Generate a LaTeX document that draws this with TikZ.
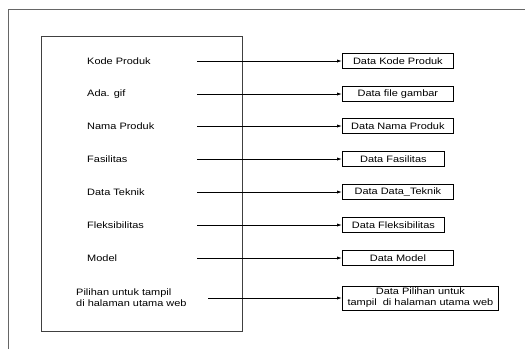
\documentclass[tikz,border=0pt]{standalone}
\usepackage{fontspec}
\setmainfont{Liberation Sans}[FakeStretch=1.18]
\usetikzlibrary{arrows.meta}

\begin{document}
\begin{tikzpicture}[x=1pt, y=-1pt,
        frame/.style={draw=black!60, line width=1pt},
        panel/.style={draw=black!75, line width=1pt},
        srclabel/.style={anchor=west, inner sep=0pt, align=left, font=\fontsize{9.3}{11}\selectfont},
        databox/.style={draw, line width=0.8pt, anchor=west, minimum height=15pt, inner sep=2pt, align=center, font=\fontsize{9.3}{11}\selectfont},
        flow/.style={-{Latex[length=5pt,width=3.2pt]}, line width=0.8pt}
    ]
        \useasboundingbox (0,0) rectangle (525,349);
        \draw[frame] (8,349) -- (8,9) -- (525,9);
        \draw[panel] (41,36) rectangle (242,331);

        \foreach \y/\src/\dst/\w [count=\i] in {61/Kode Produk/Data Kode Produk/111,
                94/Ada. gif/Data file gambar/111,
                126/Nama Produk/Data Nama Produk/111,
                159/Fasilitas/Data Fasilitas/102,
                192/Data Teknik/Data Data\_Teknik/111,
                225/Fleksibilitas/Data Fleksibilitas/102,
                258/Model/Data Model/111} {
            \node[srclabel] (src\i) at (87,\y) {\src};
            \coordinate (out\i) at (197,\y);
            \node[databox, minimum width=\w pt] (dat\i) at (342,\y) {\dst};
            \draw[flow] (out\i) -- (dat\i.west);
        }

        \node[srclabel] (src8) at (76,298) {Pilihan untuk tampil\\di halaman utama web};
        \coordinate (out8) at (208,298);
        \node[databox, minimum width=156pt, minimum height=24pt, inner sep=1pt] (dat8) at (342,298) {Data Pilihan untuk\\tampil~~di halaman utama web};
        \draw[flow] (out8) -- (dat8.west);
\end{tikzpicture}
\end{document}
